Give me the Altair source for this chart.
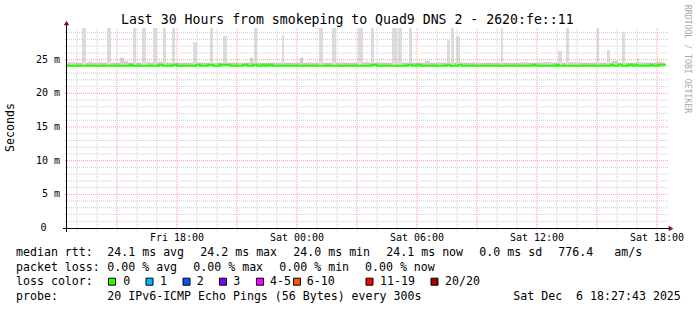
import altair as alt
import pandas as pd

FONT = "DejaVu Sans Mono"

# ---------------- data (hours since Fri 00:00, values in ms) ----------------
T0, T1 = 12.5, 42.5
Y_MAX = 29.7

# tall smoke spikes (top above Y_MAX means clipped at the top of the graph)
spike_start = [13.25, 14.5, 15.8, 16.25, 16.8, 17.3, 17.75, 18.8, 19.65, 20.3,
               21.85, 23.25, 25.1, 25.75, 27.05, 27.7, 28.75, 29.05, 29.6, 31.5,
               31.7, 31.95, 34.2, 37.05, 37.45, 39.0, 39.5, 40.25, 41.0]
spike_end = [13.45, 14.7, 15.95, 16.45, 17.0, 17.45, 17.9, 19.0, 19.8, 20.5,
             22.0, 23.35, 25.3, 25.95, 27.3, 27.85, 29.0, 29.25, 29.75, 31.65,
             31.85, 32.15, 34.3, 37.25, 37.6, 39.1, 39.65, 40.4, 41.1]
spike_top = [32, 32, 32, 32, 32, 32, 32, 27.6, 32, 28.5,
             32, 28.6, 32, 32, 32, 32, 32, 32, 32, 27.9,
             32, 28.5, 32, 26.3, 32, 32, 26.4, 29.0, 25.2]

# low smoke bumps near the median
bump_start = [12.55, 13.55, 13.95, 15.15, 15.35, 16.45, 17.05, 18.95, 19.8, 21.05,
              21.65, 22.9, 24.15, 24.55, 26.15, 27.4, 27.95, 30.4, 31.0, 32.15,
              32.9, 35.25, 36.15, 37.65, 39.75, 40.9, 41.9]
bump_end = [12.95, 13.75, 14.25, 15.35, 15.55, 16.65, 17.25, 19.25, 20.05, 21.35,
            21.8, 23.15, 24.3, 24.75, 26.35, 27.6, 28.2, 30.65, 31.25, 32.4,
            33.25, 35.55, 36.75, 38.15, 40.05, 41.4, 42.25]
bump_top = [24.6, 24.7, 24.6, 25.3, 24.8, 24.6, 24.7, 24.6, 24.5, 24.5,
            25.3, 24.5, 25.3, 24.6, 24.6, 24.7, 24.6, 24.8, 24.6, 24.6,
            24.5, 24.6, 24.6, 24.6, 24.8, 24.6, 24.7]

SMOKE_BASE = 24.0
BAND_TOP = 24.55

# median rtt line
MEDIAN = 24.1
MEDIAN_END = 42.4
med_bump_start = [15.65, 17.1, 17.8, 18.95, 19.55, 20.15, 21.3, 21.8, 22.25, 22.6,
                  27.75, 29.55, 30.0, 31.5, 32.05, 35.75, 37.0, 39.65, 40.05, 40.55,
                  40.9, 41.65, 42.05]
med_bump_end = [15.75, 17.3, 18.0, 19.15, 19.8, 20.65, 21.5, 22.0, 22.4, 22.75,
                28.0, 29.75, 30.2, 31.65, 32.25, 35.9, 37.1, 39.8, 40.25, 40.75,
                41.05, 41.8, 42.4]
med_bump_val = [24.25] * len(med_bump_start)

# grid and ticks
y_minor = [v for v in range(1, 30) if v % 5 != 0]
y_major = [5, 10, 15, 20, 25]
x_minor = [h for h in range(13, 43) if h % 3 != 0]
x_major = [h for h in range(15, 43, 3)]
y_tick_vals = [5, 10, 15, 20, 25]
y_tick_labels = ["5 m", "10 m", "15 m", "20 m", "25 m"]
x_tick_vals = [18, 24, 30, 36, 42]
x_tick_labels = ["Fri 18:00", "Sat 00:00", "Sat 06:00", "Sat 12:00", "Sat 18:00"]

title_text = "Last 30 Hours from smokeping to Quad9 DNS 2 - 2620:fe::11"
row1 = ["median rtt:", "24.1 ms avg", "24.2 ms max", "24.0 ms min", "24.1 ms now",
        "0.0 ms sd", "776.4", "am/s"]
row2 = ["packet loss:", "0.00 % avg", "0.00 % max", "0.00 % min", "0.00 % now"]
row3_head = "loss color:"
loss_labels = ["0", "1", "2", "3", "4-5", "6-10", "11-19", "20/20"]
loss_colors = ["#26ff00", "#00b8ff", "#0059ff", "#7e00ff", "#ff00ff", "#ff5500",
               "#ff0000", "#a10000"]
row4 = ["probe:", "20 IPv6-ICMP Echo Pings (56 Bytes) every 300s",
        "Sat Dec\u00a0\u00a06 18:27:43 2025"]

# ---------------- layout (pixels relative to plot origin) ----------------
W, H = 600, 200
row1_x = [-51, 40.3, 133.3, 226.3, 319.3, 412.3, 491.3, 547.3]
row2_x = [-51, 40.3, 126.3, 212.3, 298]
loss_box_x = [45, 82.5, 119.5, 156, 193, 230, 302.5, 367.5]
loss_lab_x = [56.3, 93, 129.7, 166.3, 203, 239.7, 313, 378]
row4_x = [-51, 40.3, 446.3]
row_y = [225.3, 240.3, 253.7, 268.7]

xs = alt.Scale(domain=[T0, T1], nice=False, zero=False)
ys = alt.Scale(domain=[0, Y_MAX], nice=False, zero=True)

def X(f):
    return alt.X(f, type="quantitative", scale=xs, axis=None)

def Y(f):
    return alt.Y(f, type="quantitative", scale=ys, axis=None)

# smoke band
band_df = pd.DataFrame({"s": [T0], "e": [MEDIAN_END], "lo": [SMOKE_BASE], "hi": [BAND_TOP]})
band = alt.Chart(band_df).mark_rect(color="#c4c4c4").encode(
    x=X("s"), x2="e", y=Y("lo"), y2="hi")

bump_df = pd.DataFrame({"s": bump_start, "e": bump_end, "top": bump_top,
                        "base": [SMOKE_BASE] * len(bump_start)})
bumps = alt.Chart(bump_df).mark_rect(color="#d0d0d0").encode(
    x=X("s"), x2="e", y=Y("base"), y2="top")

spike_df = pd.DataFrame({"s": spike_start, "e": spike_end, "top": spike_top,
                         "base": [SMOKE_BASE] * len(spike_start)})
spikes = alt.Chart(spike_df).mark_rect(color="#dcdcdc", clip=True).encode(
    x=X("s"), x2="e", y=Y("base"), y2="top")

# grid
def hgrid(vals, color):
    df = pd.DataFrame({"v": vals})
    return alt.Chart(df).mark_rule(color=color, strokeDash=[1, 1], strokeWidth=1).encode(
        y=Y("v"), x=alt.value(-2), x2=alt.value(W + 1))

def vgrid(vals, color):
    df = pd.DataFrame({"h": vals})
    return alt.Chart(df).mark_rule(color=color, strokeDash=[1, 1], strokeWidth=1).encode(
        x=X("h"), y=alt.value(0), y2=alt.value(H + 3))

grid = [hgrid(y_minor, "#cfcfcf"), vgrid(x_minor, "#cfcfcf"),
        hgrid(y_major, "#ff9a9a"), vgrid(x_major, "#ff9a9a")]

# median line
mx, my = [T0], [MEDIAN]
for s, e, v in zip(med_bump_start, med_bump_end, med_bump_val):
    mx += [s, e]
    my += [v, MEDIAN]
mx.append(MEDIAN_END)
my.append(MEDIAN)
med_df = pd.DataFrame({"h": mx, "v": my, "o": list(range(len(mx)))})
median = alt.Chart(med_df).mark_line(color="#26ff00", strokeWidth=2,
                                      interpolate="step-after").encode(
    x=X("h"), y=Y("v"), order="o:Q")

# axes
axis_df = pd.DataFrame({"a": [0]})
xaxis = alt.Chart(axis_df).mark_rule(color="black", strokeWidth=1).encode(
    x=alt.value(-4), x2=alt.value(W + 2), y=alt.value(H + 0.5))
yaxis = alt.Chart(axis_df).mark_rule(color="black", strokeWidth=1).encode(
    x=alt.value(-0.5), y=alt.value(-3), y2=alt.value(H + 4))
xarrow = alt.Chart(axis_df).mark_point(shape="triangle-right", filled=True, size=30,
                                      color="#8b1010", opacity=1).encode(
    x=alt.value(W + 4), y=alt.value(H + 0.5))
yarrow = alt.Chart(axis_df).mark_point(shape="triangle-up", filled=True, size=30,
                                      color="#8b1010", opacity=1).encode(
    x=alt.value(-0.5), y=alt.value(-5))

# axis labels
ylab_df = pd.DataFrame({"v": y_tick_vals, "t": y_tick_labels})
ylabs = alt.Chart(ylab_df).mark_text(font=FONT, fontSize=10, align="right",
                                     baseline="middle", color="black").encode(
    y=Y("v"), x=alt.value(-7), text="t:N")
zero_df = pd.DataFrame({"v": [0], "t": ["0"]})
zlab = alt.Chart(zero_df).mark_text(font=FONT, fontSize=10, align="right",
                                    baseline="middle", color="black").encode(
    y=Y("v"), x=alt.value(-20.5), text="t:N")
xlab_df = pd.DataFrame({"h": x_tick_vals, "t": x_tick_labels})
xlabs = alt.Chart(xlab_df).mark_text(font=FONT, fontSize=10, align="center",
                                     baseline="middle", color="black").encode(
    x=X("h"), y=alt.value(209.5), text="t:N")

# texts positioned in pixels
def ptext(items, size, color="black", align="left", angle=0):
    df = pd.DataFrame(items, columns=["t", "px", "py"])
    return alt.Chart(df).mark_text(font=FONT, fontSize=size, align=align,
                                   baseline="middle", color=color, angle=angle).encode(
        x=alt.X("px:Q", scale=None), y=alt.Y("py:Q", scale=None), text="t:N")

title = ptext([(title_text, 280.3, -8)], 13.2, align="center")
ylabel = ptext([("Seconds", -56, 99.5)], 11.6, align="center", angle=270)
credit = ptext([("RRDTOOL / TOBI OETIKER", 619.5, 31)], 8.2, color="#a8a8a8",
               align="center", angle=90)

legend_items = []
legend_items += [(t, x, row_y[0]) for t, x in zip(row1, row1_x)]
legend_items += [(t, x, row_y[1]) for t, x in zip(row2, row2_x)]
legend_items += [(row3_head, -51, row_y[2])]
legend_items += [(t, x, row_y[2]) for t, x in zip(loss_labels, loss_lab_x)]
legend_items += [(t, x, row_y[3]) for t, x in zip(row4, row4_x)]
legend = ptext(legend_items, 11.6)

box_df = pd.DataFrame({"px": loss_box_x, "py": [row_y[2]] * len(loss_box_x),
                       "c": loss_colors})
boxes = alt.Chart(box_df).mark_square(size=49, stroke="black", strokeWidth=1,
                                      opacity=1, filled=True).encode(
    x=alt.X("px:Q", scale=None), y=alt.Y("py:Q", scale=None),
    fill=alt.Fill("c:N", scale=None))

chart = alt.layer(
    band, bumps, spikes, *grid, median, xaxis, yaxis, xarrow, yarrow,
    ylabs, zlab, xlabs, title, ylabel, credit, legend, boxes
).properties(
    width=W, height=H,
    padding={"left": 67, "top": 28, "right": 30, "bottom": 82},
    autosize=alt.AutoSizeParams(type="none"),
    background="white",
).configure_view(strokeWidth=0)

chart.save("out.html", embed_options={"renderer": "svg", "actions": False})
